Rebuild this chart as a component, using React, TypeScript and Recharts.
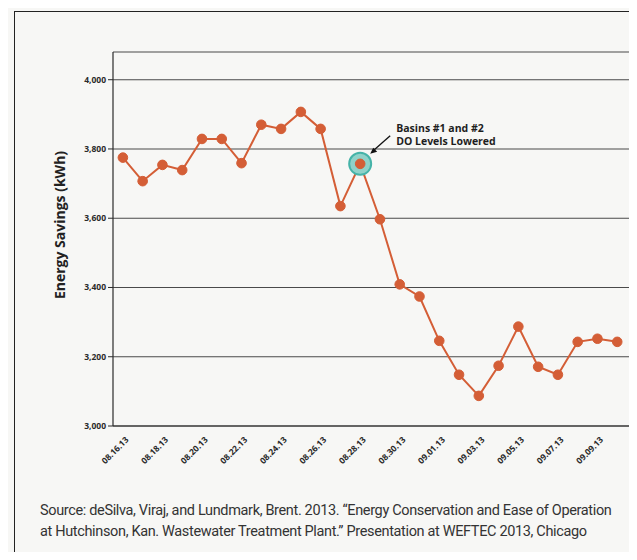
import React from "react"
import { LineChart, Line, XAxis, YAxis, CartesianGrid, ReferenceDot } from "recharts"

const dates = [
  "08.16.13", "08.17.13", "08.18.13", "08.19.13", "08.20.13", "08.21.13", "08.22.13",
  "08.23.13", "08.24.13", "08.25.13", "08.26.13", "08.27.13", "08.28.13", "08.29.13",
  "08.30.13", "08.31.13", "09.01.13", "09.02.13", "09.03.13", "09.04.13", "09.05.13",
  "09.06.13", "09.07.13", "09.08.13", "09.09.13", "09.10.13",
]

const savings = [
  3775, 3707, 3754, 3739, 3829, 3829, 3759, 3870, 3858, 3907, 3858, 3635, 3757,
  3597, 3409, 3374, 3246, 3148, 3087, 3174, 3287, 3171, 3148, 3243, 3252, 3243,
]

const yTicks = [3000, 3200, 3400, 3600, 3800, 4000]
const labelTicks = [0, 2, 4, 6, 8, 10, 12, 14, 16, 18, 20, 22, 24]
const markTicks = dates.map((_, i) => i + 0.5)

const HIGHLIGHT = 12
const noteLines = ["Basins #1 and #2", "DO Levels Lowered"]

const data = dates.map((d, i) => ({ i, date: d, kwh: savings[i] }))

const LINE = "#d45e36"
const INK = "#2a2a2a"

function DateTick(props: any) {
  const { x, y, payload } = props
  return (
    <text
      x={x}
      y={y}
      dy={9}
      transform={`rotate(-45, ${x}, ${y})`}
      textAnchor="end"
      fontSize={8.5}
      fontWeight={700}
      fill={INK}
      fontFamily="'Open Sans', sans-serif"
    >
      {dates[payload.value]}
    </text>
  )
}

function Empty() {
  return <g />
}

function Callout(props: any) {
  const { cx, cy } = props
  return (
    <g>
      <circle cx={cx} cy={cy} r={11} fill="#8fd2c9" stroke="#45b3a8" strokeWidth={2} />
      <line x1={cx + 30} y1={cy - 28} x2={cx + 13} y2={cy - 13} stroke="#111" strokeWidth={1.3} />
      <path d={`M ${cx + 10} ${cy - 10} l 7 -2 l -4 -4 z`} fill="#111" />
      <text fontSize={10.5} fontWeight={700} fill="#1e1e1e" fontFamily="'Open Sans', sans-serif">
        {noteLines.map((t, k) => (
          <tspan key={k} x={cx + 36} y={cy - 32 + k * 13}>
            {t}
          </tspan>
        ))}
      </text>
    </g>
  )
}

export default function App() {
  return (
    <div
      style={{
        position: "relative",
        width: 637,
        height: 560,
        margin: -8,
        overflow: "hidden",
        background: "#f7f7f5",
      }}
    >
      <div
        style={{
          position: "absolute",
          left: 14,
          top: 11,
          width: 700,
          height: 545,
          borderLeft: "1.5px solid #222",
          borderTop: "1.5px solid #222",
          borderBottom: "1.5px solid #222",
        }}
      />
      <div style={{ position: "absolute", left: 0, top: 0 }}>
        <LineChart width={637} height={480} data={data} margin={{ top: 52, right: 0, bottom: 0, left: 0 }}>
          <CartesianGrid vertical={false} stroke="#4a4a4a" strokeWidth={1.1} />
          <XAxis
            xAxisId="marks"
            type="number"
            dataKey="i"
            domain={[-0.5, 26]}
            ticks={markTicks}
            interval={0}
            height={0}
            axisLine={false}
            tick={<Empty />}
            tickSize={4}
            tickLine={{ stroke: INK }}
          />
          <XAxis
            type="number"
            dataKey="i"
            domain={[-0.5, 26]}
            ticks={labelTicks}
            interval={0}
            height={54}
            axisLine={{ stroke: INK, strokeWidth: 1.2 }}
            tickLine={false}
            tick={<DateTick />}
          />
          <YAxis
            type="number"
            domain={[3000, 4080]}
            ticks={yTicks}
            interval={0}
            width={113}
            axisLine={{ stroke: INK, strokeWidth: 1.2 }}
            tickLine={{ stroke: INK }}
            tickSize={5}
            tickMargin={2}
            tickFormatter={(v: number) => v.toLocaleString("en-US")}
            tick={{ fontSize: 8.5, fontWeight: 700, fill: INK, fontFamily: "'Open Sans', sans-serif" }}
            label={{
              value: "Energy Savings (kWh)",
              angle: -90,
              position: "center",
              dx: 4,
              dy: -14,
              style: { fontSize: 14, fontWeight: 700, fill: "#222", fontFamily: "'Open Sans', sans-serif" },
            }}
          />
          <ReferenceDot x={HIGHLIGHT} y={savings[HIGHLIGHT]} r={11} shape={<Callout />} ifOverflow="visible" />
          <Line
            dataKey="kwh"
            stroke={LINE}
            strokeWidth={2}
            dot={{ r: 4.8, fill: LINE, stroke: LINE, strokeWidth: 1 }}
            activeDot={false}
            isAnimationActive={false}
          />
        </LineChart>
      </div>
      <div
        style={{
          position: "absolute",
          left: 40,
          top: 500,
          width: 595,
          fontFamily: "Roboto, sans-serif",
          fontSize: 14.5,
          letterSpacing: -0.35,
          lineHeight: "21px",
          color: "#333",
          whiteSpace: "nowrap",
        }}
      >
        <div>Source: deSilva, Viraj, and Lundmark, Brent. 2013. “Energy Conservation and Ease of Operation</div>
        <div>at Hutchinson, Kan. Wastewater Treatment Plant.” Presentation at WEFTEC 2013, Chicago</div>
      </div>
    </div>
  )
}
